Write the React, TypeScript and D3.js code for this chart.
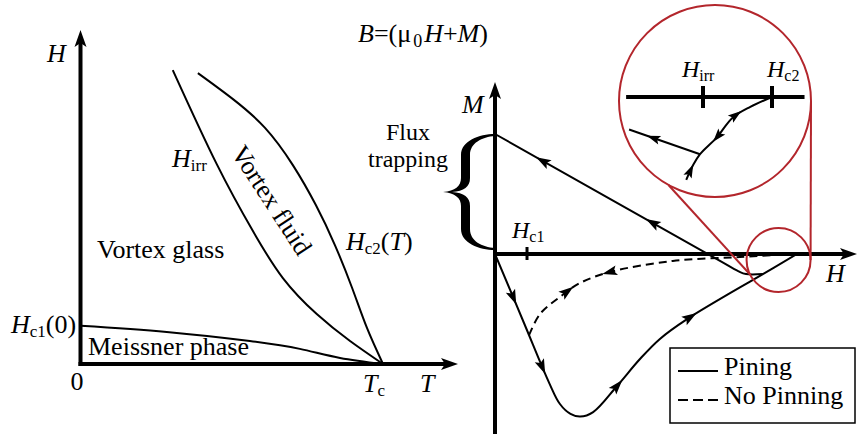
import React, { useEffect, useRef } from "react";
import * as d3 from "d3";

const WIDTH = 857;
const HEIGHT = 437;
const FONT = "'Liberation Serif', 'Times New Roman', serif";
const RED = "#b3262c";

// ---- H–T phase diagram (T in units of Tc, H in arbitrary units) ----
const hc2T = [0.388, 0.504, 0.61, 0.702, 0.778, 0.841, 0.898, 0.947, 1];
const hc2H = [0.961, 0.875, 0.78, 0.657, 0.525, 0.393, 0.251, 0.119, 0];
const hirrT = [0.305, 0.45, 0.57, 0.669, 0.781, 0.891, 1];
const hirrH = [0.971, 0.661, 0.439, 0.284, 0.165, 0.076, 0];
const hc1T = [0, 0.285, 0.56, 0.725, 0.858, 1];
const hc1H = [0.126, 0.106, 0.076, 0.05, 0.02, 0];

// ---- M–H loop (H in units of Hc2) ----
const risingH = [0, 0.096, 0.18, 0.215, 0.25, 0.282, 0.325, 0.404, 0.48, 0.546, 0.636, 0.887, 1];
const risingM = [0, -0.23, -0.431, -0.5, -0.533, -0.542, -0.527, -0.44, -0.35, -0.283, -0.217, -0.067, 0];
const fallingH = [0.887, 0.831, 0.805, 0.745, 0];
const fallingM = [-0.067, -0.067, -0.057, -0.023, 0.4];
const reversibleH = [0.113, 0.149, 0.215, 0.281, 0.381, 0.589, 0.811, 1];
const reversibleM = [-0.27, -0.2, -0.143, -0.097, -0.06, -0.023, -0.01, 0];
const hc1Field = 0.106;
const remanentM = 0.4;

const risingArrows = [0.06, 0.156, 0.404, 0.646];
const fallingArrows = [0.159, 0.523];
const reversibleArrows = [
  { h: 0.238, dir: 1 },
  { h: 0.381, dir: -1 },
];

// ---- magnified neighbourhood of Hc2 ----
const hIrr = 0.93;
const hC2 = 1;
const zoomAxisH = [0.852, 1.033];
const zoomCurveH = [0.913, 0.92, 0.927, 0.944, 0.96, 0.978, 1];
const zoomCurveM = [-0.084, -0.069, -0.058, -0.041, -0.021, -0.01, 0];
const zoomBranchH = [0.927, 0.855];
const zoomBranchM = [-0.058, -0.033];
const zoomCurveArrows = [
  { h: 0.917, dir: 1 },
  { h: 0.945, dir: -1 },
  { h: 0.963, dir: 1 },
];
const zoomBranchArrows = [0.88];
const lensCentre = { h: 0.939, m: -0.02 };

// ---- legend ----
const legendItems = [
  { label: "Pining", dash: null as string | null },
  { label: "No Pinning", dash: "10 5" },
];

type Pt = [number, number];
const zip = (a: number[], b: number[]): Pt[] => a.map((v, i) => [v, b[i]]);

export default function App() {
  const ref = useRef<SVGGElement>(null);

  useEffect(() => {
    const root = d3.select(ref.current);
    root.selectAll("*").remove();

    // scales
    const xL = d3.scaleLinear().domain([0, 1]).range([80.5, 383]);
    const yL = d3.scaleLinear().domain([0, 1]).range([364, 61.3]);
    const xR = d3.scaleLinear().domain([0, 1]).range([495, 797]);
    const yR = d3.scaleLinear().domain([0, 1]).range([254, -46]);
    const xI = d3.scaleLinear().domain([hIrr, hC2]).range([703, 772]);
    const yI = d3.scaleLinear().domain([0, -0.1]).range([97, 195.6]);

    const smooth = d3.curveCatmullRom.alpha(0.5);
    const lineL = d3.line<Pt>().x((d) => xL(d[0])).y((d) => yL(d[1])).curve(d3.curveNatural);
    const lineR = d3.line<Pt>().x((d) => xR(d[0])).y((d) => yR(d[1])).curve(smooth);
    const lineI = d3.line<Pt>().x((d) => xI(d[0])).y((d) => yI(d[1])).curve(smooth);

    const axisHead = "M0,0 L-17,-6 L-13,0 L-17,6 Z";
    const curveHead = "M8,0 L-7,-5 L-4,0 L-7,5 Z";

    const drawAxisHead = (x: number, y: number, ang: number) =>
      root.append("path").attr("d", axisHead).attr("fill", "#000")
        .attr("transform", `translate(${x},${y}) rotate(${ang})`);

    const addArrows = (node: SVGPathElement, targets: { x: number; dir: number }[], scale = 1) => {
      const len = node.getTotalLength();
      const N = 800;
      const samples = d3.range(N + 1).map((i) => {
        const l = (len * i) / N;
        const p = node.getPointAtLength(l);
        return { l, x: p.x, y: p.y };
      });
      targets.forEach((t) => {
        const s = samples.reduce((a, b) => (Math.abs(b.x - t.x) < Math.abs(a.x - t.x) ? b : a));
        const p0 = node.getPointAtLength(Math.max(0, s.l - 2));
        const p1 = node.getPointAtLength(Math.min(len, s.l + 2));
        let ang = (Math.atan2(p1.y - p0.y, p1.x - p0.x) * 180) / Math.PI;
        if (t.dir < 0) ang += 180;
        root.append("path").attr("d", curveHead).attr("fill", "#000")
          .attr("transform", `translate(${s.x},${s.y}) rotate(${ang}) scale(${scale})`);
      });
    };

    const stroke = (sel: any, w = 2) => sel.attr("fill", "none").attr("stroke", "#000").attr("stroke-width", w);

    // ---------- phase diagram ----------
    stroke(root.append("path").attr("d", lineL(zip(hc2T, hc2H))), 2);
    stroke(root.append("path").attr("d", lineL(zip(hirrT, hirrH))), 2);
    stroke(root.append("path").attr("d", lineL(zip(hc1T, hc1H))), 2);

    stroke(root.append("line").attr("x1", xL(0)).attr("x2", xL(0)).attr("y1", yL(0) + 2).attr("y2", 42), 4);
    stroke(root.append("line").attr("x1", xL(0) - 2).attr("x2", 445).attr("y1", yL(0)).attr("y2", yL(0)), 4);
    drawAxisHead(xL(0), 30, -90);
    drawAxisHead(458, yL(0), 0);

    // ---------- magnetisation loop ----------
    stroke(root.append("line").attr("x1", xR(0)).attr("x2", xR(0)).attr("y1", 434).attr("y2", 95), 4);
    stroke(root.append("line").attr("x1", xR(0) - 2).attr("x2", 845).attr("y1", yR(0)).attr("y2", yR(0)), 4);
    drawAxisHead(xR(0), 82, -90);
    drawAxisHead(857, yR(0), 0);

    stroke(root.append("line").attr("x1", xR(hc1Field)).attr("x2", xR(hc1Field))
      .attr("y1", yR(0) - 7).attr("y2", yR(0) + 6), 3);

    const reversible = stroke(root.append("path").attr("d", lineR(zip(reversibleH, reversibleM))), 2)
      .attr("stroke-dasharray", "8 5");
    const rising = stroke(root.append("path").attr("d", lineR(zip(risingH, risingM))), 2);
    const falling = stroke(root.append("path").attr("d", lineR(zip(fallingH, fallingM))), 2);

    addArrows(rising.node(), risingArrows.map((h) => ({ x: xR(h), dir: 1 })));
    addArrows(falling.node(), fallingArrows.map((h) => ({ x: xR(h), dir: 1 })));
    addArrows(reversible.node(), reversibleArrows.map((a) => ({ x: xR(a.h), dir: a.dir })));

    // flux-trapping brace between M = 0 and the remanent magnetisation
    const xr = xR(0);
    const y0 = yR(remanentM) + 1;
    const y1 = yR(0) - 5;
    const ym = (y0 + y1) / 2;
    const s = xr - 29;
    const tip = xr - 52;
    const brace = [
      `M${xr},${y0 - 1}`,
      `C${xr - 16},${y0 - 1} ${s - 5},${y0 + 6} ${s - 5},${y0 + 20}`,
      `L${s - 5},${ym - 14}`,
      `C${s - 5},${ym - 6} ${s - 11},${ym - 1} ${tip},${ym}`,
      `C${s - 11},${ym + 1} ${s - 5},${ym + 6} ${s - 5},${ym + 14}`,
      `L${s - 5},${y1 - 20}`,
      `C${s - 5},${y1 - 6} ${xr - 16},${y1 + 1} ${xr},${y1 + 1}`,
      `L${xr},${y1 - 1}`,
      `C${xr - 13},${y1 - 2} ${s + 4},${y1 - 8} ${s + 4},${y1 - 20}`,
      `L${s + 4},${ym + 14}`,
      `C${s + 4},${ym + 5} ${s - 2},${ym + 1} ${tip + 9},${ym}`,
      `C${s - 2},${ym - 1} ${s + 4},${ym - 5} ${s + 4},${ym - 14}`,
      `L${s + 4},${y0 + 20}`,
      `C${s + 4},${y0 + 8} ${xr - 13},${y0 + 2} ${xr},${y0 + 1}`,
      "Z",
    ].join(" ");
    root.append("path").attr("d", brace).attr("fill", "#000");

    // ---------- lens and magnified view ----------
    const big = { x: 715, y: 101, r: 96 };
    const small = { x: xR(lensCentre.h), y: yR(lensCentre.m), r: 32 };
    const onCircle = (c: { x: number; y: number; r: number }, deg: number) => [
      c.x + c.r * Math.cos((deg * Math.PI) / 180),
      c.y + c.r * Math.sin((deg * Math.PI) / 180),
    ];
    [[0, 0], [119, 153]].forEach(([a, b]) => {
      const p = onCircle(big, a);
      const q = onCircle(small, b);
      root.append("line").attr("x1", p[0]).attr("y1", p[1]).attr("x2", q[0]).attr("y2", q[1])
        .attr("stroke", RED).attr("stroke-width", 2);
    });
    [big, small].forEach((c) =>
      root.append("circle").attr("cx", c.x).attr("cy", c.y).attr("r", c.r)
        .attr("fill", "none").attr("stroke", RED).attr("stroke-width", 2)
    );

    stroke(root.append("line").attr("x1", xI(zoomAxisH[0])).attr("x2", xI(zoomAxisH[1]))
      .attr("y1", yI(0)).attr("y2", yI(0)), 4);
    [hIrr, hC2].forEach((h) =>
      stroke(root.append("line").attr("x1", xI(h)).attr("x2", xI(h)).attr("y1", yI(0) - 11).attr("y2", yI(0) + 11), 4)
    );
    const zc = stroke(root.append("path").attr("d", lineI(zip(zoomCurveH, zoomCurveM))), 2);
    const zb = stroke(root.append("path").attr("d", lineI(zip(zoomBranchH, zoomBranchM))), 2);
    addArrows(zc.node(), zoomCurveArrows.map((a) => ({ x: xI(a.h), dir: a.dir })), 0.9);
    addArrows(zb.node(), zoomBranchArrows.map((h) => ({ x: xI(h), dir: 1 })), 0.9);

    // ---------- legend ----------
    const lg = root.append("g").attr("transform", "translate(670,348)");
    lg.append("rect").attr("width", 185).attr("height", 75)
      .attr("fill", "#fff").attr("stroke", "#000").attr("stroke-width", 1.5);
    legendItems.forEach((item, i) => {
      const y = 23 + i * 29;
      const ln = stroke(lg.append("line").attr("x1", 8).attr("x2", 48).attr("y1", y).attr("y2", y), 2);
      if (item.dash) ln.attr("stroke-dasharray", item.dash);
      lg.append("text").attr("x", 54).attr("y", y + 4).attr("font-size", 26).text(item.label);
    });
  }, []);

  const it = { fontStyle: "italic" } as const;

  return (
    <svg
      width={WIDTH}
      height={HEIGHT}
      viewBox={`0 0 ${WIDTH} ${HEIGHT}`}
      style={{ position: "absolute", left: 0, top: 0, background: "#fff" }}
      fontFamily={FONT}
      fontSize={26}
      fill="#000"
    >
      <g ref={ref} />

      {/* phase-diagram labels */}
      <text x={47} y={62} style={it}>H</text>
      <text x={172} y={167}>
        <tspan style={it}>H</tspan>
        <tspan fontSize={17} dy={4}>irr</tspan>
      </text>
      <text x={97} y={258}>Vortex glass</text>
      <text transform="translate(272,200) rotate(57)" textAnchor="middle" dy={9}>
        Vortex fluid
      </text>
      <text x={346} y={250}>
        <tspan style={it}>H</tspan>
        <tspan fontSize={17} dy={4}>c2</tspan>
        <tspan dy={-4}>(</tspan>
        <tspan style={it}>T</tspan>
        <tspan>)</tspan>
      </text>
      <text x={11} y={333}>
        <tspan style={it}>H</tspan>
        <tspan fontSize={17} dy={4}>c1</tspan>
        <tspan dy={-4}>(0)</tspan>
      </text>
      <text x={88} y={355}>Meissner phase</text>
      <text x={77} y={390} textAnchor="middle">0</text>
      <text x={363} y={392}>
        <tspan style={it}>T</tspan>
        <tspan fontSize={17} dy={4}>c</tspan>
      </text>
      <text x={420} y={392} style={it}>T</text>

      {/* loop labels */}
      <text x={358} y={42} fontSize={26}>
        <tspan style={it}>B</tspan>
        <tspan>=(μ</tspan>
        <tspan fontSize={18} dy={5} dx={2}>0</tspan>
        <tspan style={it} dy={-5} dx={2}>H</tspan>
        <tspan>+</tspan>
        <tspan style={it}>M</tspan>
        <tspan>)</tspan>
      </text>
      <text x={462} y={113} style={it}>M</text>
      <text x={408} y={140} textAnchor="middle" fontSize={24}>Flux</text>
      <text x={408} y={167} textAnchor="middle" fontSize={24}>trapping</text>
      <text x={512} y={238} fontSize={24}>
        <tspan style={it}>H</tspan>
        <tspan fontSize={16} dy={4}>c1</tspan>
      </text>
      <text x={826} y={282} style={it}>H</text>
      <text x={682} y={77} fontSize={24}>
        <tspan style={it}>H</tspan>
        <tspan fontSize={16} dy={4}>irr</tspan>
      </text>
      <text x={767} y={77} fontSize={24}>
        <tspan style={it}>H</tspan>
        <tspan fontSize={16} dy={4}>c2</tspan>
      </text>
    </svg>
  );
}
